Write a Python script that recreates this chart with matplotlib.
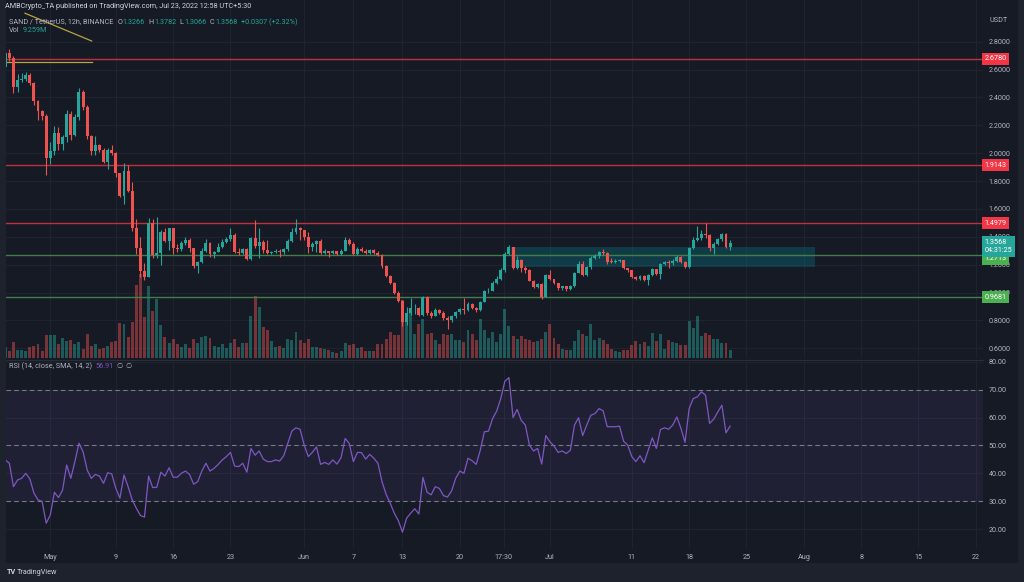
import numpy as np
import pandas as pd
import matplotlib
matplotlib.use("Agg")
import matplotlib.pyplot as plt
import matplotlib.dates as mdates
import matplotlib.transforms as mtransforms
from matplotlib.patches import Rectangle

# SAND/USDT 12h candles, 2022-04-25 12:00 .. 2022-07-23 00:00
first_open = 2.62
closes = [
    2.716, 2.68, 2.477, 2.525, 2.532, 2.561, 2.501, 2.375, 2.303, 2.267,
    1.963, 2.016, 2.143, 2.064, 2.114, 2.281, 2.131, 2.257, 2.437, 2.334,
    2.124, 2.016, 2.059, 2.023, 1.939, 2.023, 1.999, 1.856, 1.693, 1.872,
    1.729, 1.466, 1.318, 1.157, 1.115, 1.497, 1.270, 1.287, 1.437, 1.373,
    1.461, 1.318, 1.311, 1.358, 1.377, 1.318, 1.191, 1.222, 1.301, 1.358,
    1.275, 1.294, 1.330, 1.366, 1.382, 1.413, 1.294, 1.286, 1.311, 1.239,
    1.389, 1.334, 1.366, 1.306, 1.287, 1.288, 1.301, 1.292, 1.311, 1.373,
    1.437, 1.461, 1.449, 1.397, 1.325, 1.349, 1.373, 1.282, 1.298, 1.282,
    1.298, 1.277, 1.301, 1.378, 1.349, 1.277, 1.311, 1.301, 1.287, 1.306,
    1.287, 1.270, 1.191, 1.119, 1.071, 0.999, 0.942, 0.790, 0.852, 0.887,
    0.888, 0.840, 0.966, 0.852, 0.833, 0.875, 0.856, 0.820, 0.800, 0.830,
    0.860, 0.885, 0.878, 0.920, 0.890, 0.875, 0.935, 1.010, 1.015, 1.070,
    1.100, 1.160, 1.280, 1.325, 1.175, 1.234, 1.180, 1.160, 1.086, 1.043,
    1.062, 0.970, 1.127, 1.095, 1.067, 1.030, 1.045, 1.025, 1.048, 1.143,
    1.205, 1.127, 1.181, 1.246, 1.265, 1.294, 1.282, 1.222, 1.220, 1.229,
    1.231, 1.174, 1.162, 1.115, 1.095, 1.119, 1.090, 1.127, 1.167, 1.134,
    1.205, 1.222, 1.210, 1.229, 1.258, 1.222, 1.181, 1.318, 1.378, 1.389,
    1.420, 1.413, 1.318, 1.349, 1.382, 1.420, 1.3266, 1.3568,
]
highs = [
    2.74, 2.75, 2.70, 2.57, 2.573, 2.58, 2.575, 2.51, 2.38, 2.31,
    2.28, 2.083, 2.195, 2.186, 2.13, 2.31, 2.30, 2.28, 2.465, 2.45,
    2.345, 2.13, 2.12, 2.066, 2.04, 2.035, 2.06, 2.01, 1.86, 1.928,
    1.915, 1.796, 1.53, 1.40, 1.21, 1.533, 1.525, 1.545, 1.45, 1.46,
    1.466, 1.466, 1.35, 1.372, 1.40, 1.39, 1.32, 1.23, 1.318, 1.382,
    1.36, 1.30, 1.354, 1.382, 1.40, 1.461, 1.425, 1.318, 1.32, 1.32,
    1.40, 1.521, 1.466, 1.378, 1.378, 1.30, 1.31, 1.31, 1.32, 1.382,
    1.461, 1.526, 1.468, 1.45, 1.437, 1.36, 1.38, 1.385, 1.31, 1.30,
    1.305, 1.30, 1.31, 1.40, 1.39, 1.36, 1.33, 1.33, 1.31, 1.315,
    1.31, 1.295, 1.275, 1.195, 1.125, 1.075, 1.01, 0.945, 0.899, 0.959,
    0.92, 0.90, 0.975, 0.975, 0.87, 0.89, 0.88, 0.87, 0.83, 0.84,
    0.87, 0.89, 0.96, 0.93, 0.925, 0.90, 0.94, 1.02, 1.03, 1.08,
    1.12, 1.175, 1.29, 1.345, 1.33, 1.26, 1.24, 1.19, 1.17, 1.09,
    1.07, 1.07, 1.13, 1.16, 1.10, 1.07, 1.05, 1.05, 1.055, 1.15,
    1.23, 1.23, 1.19, 1.26, 1.275, 1.30, 1.31, 1.29, 1.246, 1.24,
    1.24, 1.235, 1.18, 1.165, 1.12, 1.125, 1.125, 1.135, 1.175, 1.17,
    1.21, 1.23, 1.235, 1.24, 1.27, 1.265, 1.23, 1.325, 1.40, 1.478,
    1.45, 1.497, 1.42, 1.36, 1.39, 1.43, 1.425, 1.3782,
]
lows = [
    2.60, 2.66, 2.434, 2.44, 2.51, 2.52, 2.49, 2.346, 2.238, 2.24,
    1.844, 1.92, 1.99, 2.02, 2.02, 2.08, 2.095, 2.12, 2.24, 2.31,
    2.105, 1.99, 1.99, 2.01, 1.927, 1.884, 1.99, 1.832, 1.688, 1.636,
    1.72, 1.445, 1.28, 1.115, 1.091, 1.11, 1.25, 1.245, 1.198, 1.36,
    1.305, 1.28, 1.294, 1.30, 1.34, 1.29, 1.18, 1.143, 1.21, 1.29,
    1.258, 1.246, 1.29, 1.32, 1.355, 1.37, 1.282, 1.27, 1.28, 1.234,
    1.235, 1.318, 1.246, 1.282, 1.28, 1.275, 1.285, 1.258, 1.28, 1.30,
    1.36, 1.42, 1.38, 1.38, 1.282, 1.30, 1.29, 1.275, 1.28, 1.258,
    1.275, 1.27, 1.27, 1.295, 1.34, 1.27, 1.27, 1.29, 1.28, 1.28,
    1.28, 1.26, 1.18, 1.11, 1.06, 0.99, 0.93, 0.76, 0.77, 0.84,
    0.85, 0.83, 0.83, 0.84, 0.82, 0.83, 0.85, 0.80, 0.74, 0.79,
    0.82, 0.85, 0.85, 0.87, 0.88, 0.86, 0.87, 0.93, 1.00, 1.01,
    1.06, 1.09, 1.15, 1.27, 1.17, 1.17, 1.15, 1.14, 1.08, 1.03,
    1.035, 0.955, 0.965, 1.09, 1.06, 1.02, 1.02, 1.015, 1.02, 1.04,
    1.14, 1.12, 1.12, 1.17, 1.24, 1.25, 1.27, 1.205, 1.21, 1.215,
    1.22, 1.17, 1.15, 1.105, 1.09, 1.09, 1.085, 1.055, 1.12, 1.125,
    1.10, 1.20, 1.18, 1.20, 1.22, 1.215, 1.175, 1.175, 1.31, 1.37,
    1.38, 1.39, 1.30, 1.28, 1.34, 1.37, 1.32, 1.3066,
]
volumes = [  # millions
    11.9, 8.1, 17.5, 9.3, 8.9, 8.1, 11.9, 13.0, 15.6, 8.1,
    26.0, 25.3, 26.0, 15.6, 22.3, 19.3, 20.1, 15.6, 17.5, 10.0,
    26.8, 13.0, 15.6, 10.0, 11.2, 13.7, 17.5, 18.6, 39.0, 37.9,
    23.7, 40.5, 81.4, 93.7, 45.4, 79.7, 52.4, 65.5, 37.1, 23.4,
    17.1, 20.9, 15.9, 12.3, 15.3, 11.2, 20.9, 16.7, 23.4, 24.2,
    22.6, 13.0, 12.3, 15.9, 11.2, 17.1, 21.5, 12.3, 17.1, 17.1,
    46.8, 68.8, 56.9, 34.6, 31.6, 18.6, 12.3, 13.7, 11.2, 20.9,
    19.7, 29.0, 19.7, 16.7, 20.9, 12.3, 12.3, 11.2, 10.4, 8.6,
    6.7, 5.9, 7.5, 16.7, 14.5, 15.3, 11.2, 12.3, 7.5, 7.8,
    7.8, 15.3, 15.3, 20.9, 29.0, 26.0, 26.0, 64.7, 47.6, 55.0,
    27.1, 37.6, 43.8, 26.4, 27.9, 19.7, 15.3, 26.4, 25.3, 26.4,
    19.7, 19.7, 17.8, 30.9, 26.4, 19.7, 43.2, 30.9, 22.3, 29.0,
    17.8, 27.1, 55.0, 35.7, 24.2, 20.9, 24.5, 20.9, 19.7, 17.8,
    19.0, 20.9, 29.0, 38.2, 22.3, 15.9, 10.4, 9.3, 8.6, 19.0,
    30.9, 26.2, 24.2, 38.2, 19.7, 22.3, 19.7, 15.3, 9.7, 7.8,
    6.7, 9.3, 9.3, 14.2, 18.6, 15.9, 17.8, 13.0, 28.2, 19.0,
    27.1, 10.4, 20.4, 17.8, 17.1, 14.2, 14.8, 40.9, 33.5, 46.8,
    24.5, 28.2, 26.0, 21.5, 20.9, 16.7, 17.1, 9.259,
]
rsi = [
    44.8, 43.6, 35.2, 37.6, 38.2, 40.0, 38.0, 32.9, 30.5, 29.9,
    22.1, 25.1, 33.2, 31.3, 34.0, 43.0, 38.2, 44.2, 50.8, 47.7,
    41.2, 38.2, 39.6, 39.0, 36.4, 40.2, 39.8, 34.6, 31.1, 39.4,
    35.2, 30.5, 27.5, 24.9, 24.3, 39.0, 34.9, 35.0, 40.4, 39.0,
    42.0, 38.6, 38.6, 40.0, 40.8, 39.6, 36.1, 37.0, 40.8, 43.6,
    40.8, 41.8, 43.2, 44.8, 46.0, 47.5, 42.6, 42.4, 43.6, 40.4,
    48.9, 46.5, 48.0, 45.1, 44.2, 44.2, 44.8, 44.4, 46.3, 50.7,
    55.2, 56.3, 55.8, 50.1, 46.0, 47.5, 49.5, 43.2, 43.9, 43.2,
    44.8, 43.3, 45.6, 52.5, 50.7, 44.2, 47.5, 47.4, 45.1, 46.8,
    45.4, 43.6, 37.0, 32.5, 29.3, 25.7, 23.0, 18.9, 23.9, 25.7,
    27.3, 25.4, 38.5, 33.2, 32.3, 35.2, 34.6, 32.0, 31.5, 33.7,
    38.2, 40.8, 40.0, 45.4, 44.5, 43.2, 48.3, 54.9, 55.1, 59.6,
    62.3, 66.8, 73.0, 74.3, 60.0, 62.9, 59.0, 57.3, 50.1, 48.0,
    48.9, 43.3, 53.5, 51.3, 49.8, 47.5, 48.0, 47.1, 48.3, 57.3,
    59.9, 53.5, 57.3, 60.8, 61.4, 63.2, 62.4, 56.7, 56.7, 56.7,
    56.9, 51.5, 50.1, 46.0, 44.2, 46.3, 43.8, 48.3, 52.7, 48.9,
    55.7, 56.3, 55.8, 57.3, 60.2, 56.1, 51.1, 63.2, 66.8, 67.4,
    69.2, 68.0, 57.9, 59.4, 62.0, 64.4, 54.5, 56.91,
]

price_ticks = [0.6, 0.8, 1.0, 1.2, 1.4, 1.6, 1.8, 2.0, 2.2, 2.4, 2.6, 2.8]
rsi_ticks = [20, 30, 40, 50, 60, 70, 80]
date_ticks = ["2022-05-01 00:00", "2022-05-09 00:00", "2022-05-16 00:00", "2022-05-23 00:00",
              "2022-06-01 00:00", "2022-06-07 00:00", "2022-06-13 00:00", "2022-06-20 00:00",
              "2022-06-25 08:30", "2022-07-01 00:00", "2022-07-11 00:00", "2022-07-18 00:00",
              "2022-07-25 00:00", "2022-08-01 00:00", "2022-08-08 00:00", "2022-08-15 00:00",
              "2022-08-22 00:00"]
date_labels = ["May", "9", "16", "23", "Jun", "7", "13", "20", "17:30", "Jul",
               "11", "18", "25", "Aug", "8", "15", "22"]
red_levels = [2.6780, 1.9143, 1.4979]
green_levels = [1.2713, 0.9681]

BG = "#161a25"
FRAME = "#1e222d"
TXT = "#b2b5be"
UP = "#26a69a"
DOWN = "#ef5350"
GRID = "#1f2330"
FS = 5.2
plt.rcParams["font.family"] = ["Roboto", "DejaVu Sans"]

W, H = 1024, 582
fig = plt.figure(figsize=(W / 100, H / 100), dpi=100, facecolor=FRAME)
fig.patches.append(Rectangle((6 / W, 1 - 563 / H), 1012 / W, 563 / H,
                             transform=fig.transFigure, fc=BG, ec="none", zorder=-5))


def rect(x0, y0, x1, y1):
    return [x0 / W, 1 - y1 / H, (x1 - x0) / W, (y1 - y0) / H]


closes = np.array(closes)
opens = np.concatenate([[first_open], closes[:-1]])
highs = np.maximum(np.array(highs), np.maximum(opens, closes))
lows = np.minimum(np.array(lows), np.minimum(opens, closes))
volumes = np.array(volumes)
times = pd.date_range("2022-04-25 12:00", periods=len(closes), freq="12h")
x = mdates.date2num(times)
up = closes >= opens
colors = np.where(up, UP, DOWN)

base = mdates.date2num(pd.Timestamp("2022-05-01"))
xlim = (base - 5.41, base + 113.88)
tick_x = mdates.date2num(pd.to_datetime(date_ticks, format="%Y-%m-%d %H:%M"))

# ---- price pane
ax = fig.add_axes(rect(6, 0, 983, 358))
ax.set_facecolor("none")
ax.set_xlim(*xlim)
ax.set_ylim(0.531, 3.099)
ax.set_xticks(tick_x)
ax.set_xticklabels([])
ax.set_yticks(price_ticks)
ax.set_yticklabels([f"{v:.4f}" for v in price_ticks])
ax.yaxis.tick_right()
ax.tick_params(axis="both", length=0, colors=TXT, labelsize=FS, pad=4)
ax.grid(True, color=GRID, lw=0.8, zorder=0)
ax.set_axisbelow(True)
for s in ax.spines.values():
    s.set_visible(False)

# volume overlay in the bottom of the price pane
vol_tr = mtransforms.blended_transform_factory(ax.transData, ax.transAxes)
ax.bar(x, volumes / 399.0, width=0.36, bottom=0, color=colors, alpha=0.45,
       transform=vol_tr, zorder=1)

# zone box
ax.add_patch(Rectangle((base + 56.3, 1.182), 37.1, 0.147, fc="#00bcd4", alpha=0.2,
                       ec="none", zorder=1.5))

for lv in red_levels:
    ax.axhline(lv, color="#c0303c", lw=1.0, zorder=1.6)
for lv in green_levels:
    ax.axhline(lv, color="#3f8049", lw=1.0, zorder=1.6)

# yellow drawings
ax.plot([base - 3.09, base + 5.05], [3.004, 2.805], color="#b5a440", lw=0.9, zorder=2)
ax.plot([base - 5.4, base + 5.1], [2.654, 2.654], color="#b5a440", lw=0.9, zorder=2)

# candles
ax.vlines(x, lows, highs, colors=colors, lw=0.8, zorder=3)
body = np.maximum(np.abs(closes - opens), 0.004)
ax.bar(x, body, bottom=np.minimum(opens, closes), width=0.36, color=colors, zorder=4)

lab_tr = mtransforms.blended_transform_factory(ax.transAxes, ax.transData)
box = dict(boxstyle="square,pad=0.35", ec="none")
for lv in red_levels:
    ax.text(1.0015, lv, f"{lv:.4f}", transform=lab_tr, ha="left", va="center",
            fontsize=FS, color="white", zorder=6, bbox=dict(box, fc="#f23645"))
ax.text(1.0015, 1.2713, "1.2713",
        transform=mtransforms.offset_copy(lab_tr, fig=fig, y=-4, units="dots"),
        ha="left", va="center", fontsize=FS, color="white", zorder=6,
        bbox=dict(box, fc="#4caf50"))
ax.text(1.0015, 0.9681, "0.9681", transform=lab_tr, ha="left", va="center",
        fontsize=FS, color="white", zorder=6, bbox=dict(box, fc="#4caf50"))
ax.text(1.0015, closes[-1], "1.3568\n04:31:25",
        transform=mtransforms.offset_copy(lab_tr, fig=fig, y=4, units="dots"),
        ha="left", va="top", fontsize=FS, color="white", zorder=7, linespacing=1.25,
        bbox=dict(box, fc=UP))

fig.text(989 / W, 1 - 21 / H, "USDT", color=TXT, fontsize=FS, va="center")

# ---- RSI pane
rax = fig.add_axes(rect(6, 360, 983, 548))
rax.set_facecolor("none")
rax.set_xlim(*xlim)
rax.set_ylim(13.23, 80.61)
rax.axhspan(30, 70, color="#7e57c2", alpha=0.1, lw=0)
for lv in (70, 50, 30):
    rax.axhline(lv, color="#787b86", lw=0.8, ls=(0, (4, 3)))
rax.plot(x, rsi, color="#7e57c2", lw=0.9)
rax.set_yticks(rsi_ticks)
rax.set_yticklabels([f"{v:.2f}" for v in rsi_ticks])
rax.yaxis.tick_right()
rax.set_xticks(tick_x)
rax.set_xticklabels(date_labels)
rax.tick_params(axis="both", length=0, colors=TXT, labelsize=FS)
rax.tick_params(axis="y", pad=4)
rax.tick_params(axis="x", pad=4)
rax.grid(True, color=GRID, lw=0.8)
rax.set_axisbelow(True)
for k, s in rax.spines.items():
    s.set_visible(k == "top")
rax.spines["top"].set_color("#2a2e39")

# ---- legends and header (pieces laid out one after another)
renderer = fig.canvas.get_renderer()


def text_row(px, py, pieces):
    for s, c, gap in pieces:
        t = fig.text(px / W, 1 - py / H, s, color=c, fontsize=FS, va="center")
        px += t.get_window_extent(renderer).width + gap
    return px


text_row(5, 7, [("AMBCrypto_TA published on TradingView.com, Jul 23, 2022 12:58 UTC+5:30",
                 "#d1d4dc", 0)])
row = [("SAND / TetherUS, 12h, BINANCE", TXT, 4)]
for lab, val in [("O", "1.3266"), ("H", "1.3782"), ("L", "1.3066"), ("C", "1.3568")]:
    row += [(lab, TXT, 0.5), (val, UP, 3.5)]
row += [("+0.0307 (+2.32%)", UP, 0)]
text_row(9, 22, row)
text_row(9, 31, [("Vol", TXT, 3), ("9.259M", UP, 0)])
text_row(9, 366, [("RSI (14, close, SMA, 14, 2)", TXT, 3), ("56.91", "#7e57c2", 3),
                  ("\u2205", TXT, 3), ("\u2205", TXT, 0)])

fig.text(7 / W, 1 - 572 / H, "TV", color="#d1d4dc", fontsize=FS, va="center",
         fontweight="bold")
fig.text(17 / W, 1 - 572 / H, "TradingView", color="#d1d4dc", fontsize=FS, va="center")

fig.savefig("out.png", dpi=100, facecolor=FRAME)
